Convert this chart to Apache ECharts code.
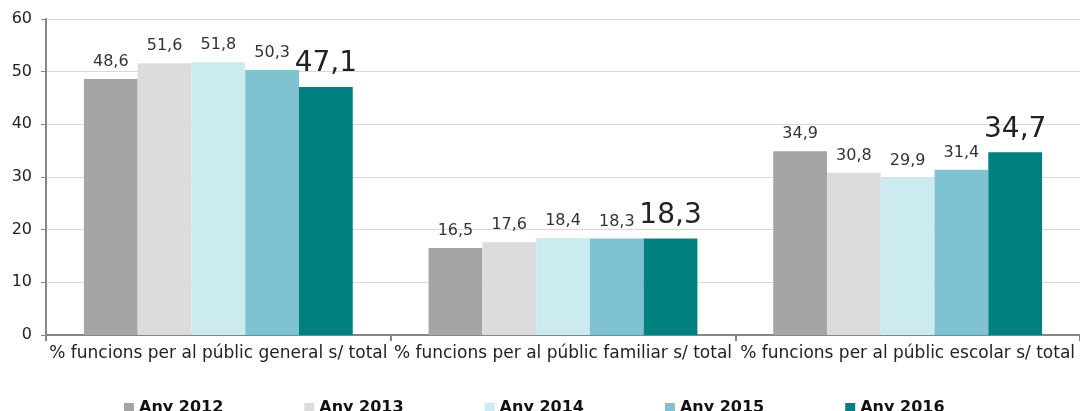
<!DOCTYPE html>
<html>
<head>
<meta charset="utf-8">
<script src="https://cdn.jsdelivr.net/npm/echarts@6/dist/echarts.min.js"></script>
<style>
html,body{margin:0;padding:0;background:#fff;}
#chart{width:1080px;height:411px;}
</style>
</head>
<body>
<div id="chart"></div>
<script>
// categories and values per year
var categories = ['% funcions per al públic general s/ total',
                  '% funcions per al públic familiar s/ total',
                  '% funcions per al públic escolar s/ total'];
var years = ['Any 2012','Any 2013','Any 2014','Any 2015','Any 2016'];
var any2012 = [48.6, 16.5, 34.9];
var any2013 = [51.6, 17.6, 30.8];
var any2014 = [51.8, 18.4, 29.9];
var any2015 = [50.3, 18.3, 31.4];
var any2016 = [47.1, 18.3, 34.7];
var colors = ['#a5a5a5','#dcdcdc','#cbebf0','#7fc3d3','#008080'];

var FONT = 'DejaVu Sans';
var allData = [any2012, any2013, any2014, any2015, any2016];
var series = [];
for (var i = 0; i < years.length; i++) {
	var last = (i == years.length - 1);
	series.push({
		name: years[i],
		type: 'bar',
		data: allData[i],
		barGap: '0%',
		barCategoryGap: '22%',
		itemStyle: {color: colors[i]},
		label: {
			show: true,
			position: 'top',
			distance: last ? 9 : 9,
			color: last ? '#222' : '#333',
			fontFamily: FONT,
			fontSize: last ? 28 : 16,
			formatter: function(p){ return String(p.value).replace('.', ','); }
		}
	});
}

var myChart = echarts.init(document.getElementById('chart'));
myChart.setOption({
	animation: false,
	grid: {left: 46, top: 19, right: 0, bottom: 76, containLabel: false},
	legend: {
		data: years,
		left: 119,
		top: 395,
		icon: 'rect',
		itemWidth: 10,
		itemHeight: 10,
		itemGap: 81,
		textStyle: {fontFamily: FONT, fontWeight: 'bold', fontSize: 16, color: '#111'}
	},
	xAxis: {
		type: 'category',
		data: categories,
		axisLine: {lineStyle: {color: '#868686', width: 2}},
		axisTick: {show: true, length: 6, lineStyle: {color: '#868686', width: 2}},
		axisLabel: {color: '#222', fontFamily: FONT, fontSize: 17, margin: 10, interval: 0}
	},
	yAxis: {
		type: 'value',
		min: 0,
		max: 60,
		interval: 10,
		axisLine: {show: true, lineStyle: {color: '#868686', width: 2}},
		axisTick: {show: true, length: 5, lineStyle: {color: '#868686', width: 1}},
		axisLabel: {color: '#222', fontFamily: FONT, fontSize: 16, margin: 14},
		splitLine: {lineStyle: {color: '#d9d9d9', width: 1}}
	},
	series: series
});
</script>
</body>
</html>
